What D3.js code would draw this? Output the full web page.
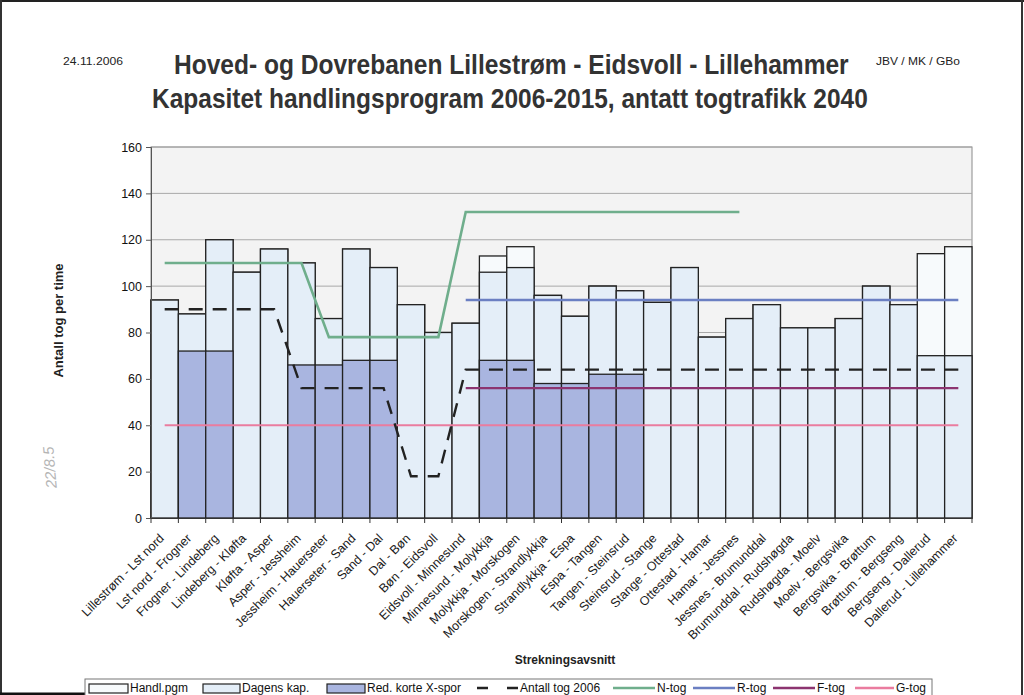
<!DOCTYPE html>
<html>
<head>
<meta charset="utf-8">
<script src="https://cdn.jsdelivr.net/npm/d3@7/dist/d3.min.js"></script>
<style>
  html, body { margin: 0; padding: 0; background: #ffffff; }
  svg { display: block; }
  text { font-family: "Liberation Sans", Arial, sans-serif; fill: #111; }
</style>
</head>
<body>
<svg id="chart" width="1024" height="695"></svg>
<script>
// ---------- data ----------
const categories = [
  "Lillestrøm - Lst nord", "Lst nord - Frogner", "Frogner - Lindeberg", "Lindeberg - Kløfta",
  "Kløfta - Asper", "Asper - Jessheim", "Jessheim - Hauerseter", "Hauerseter - Sand",
  "Sand - Dal", "Dal - Bøn", "Bøn - Eidsvoll", "Eidsvoll - Minnesund",
  "Minnesund - Molykkja", "Molykkja - Morskogen", "Morskogen - Strandlykkja", "Strandlykkja - Espa",
  "Espa - Tangen", "Tangen - Steinsrud", "Steinsrud - Stange", "Stange - Ottestad",
  "Ottestad - Hamar", "Hamar - Jessnes", "Jessnes - Brumunddal", "Brumunddal - Rudshøgda",
  "Rudshøgda - Moelv", "Moelv - Bergsvika", "Bergsvika - Brøttum", "Brøttum - Bergseng",
  "Bergseng - Dallerud", "Dallerud - Lillehammer"
];
const handlPgm   = [94, 88, 120, 106, 116, 110, 86, 116, 108, 92, 80, 84, 113, 117, 96, 87, 100, 98, 93, 108, 78, 86, 92, 82, 82, 86, 100, 92, 114, 117];
const dagensKap  = [94, 88, 120, 106, 116, 110, 86, 116, 108, 92, 80, 84, 106, 108, 96, 87, 100, 98, 93, 108, 78, 86, 92, 82, 82, 86, 100, 92, 70, 70];
const redKorteX  = [null, 72, 72, null, null, 66, 66, 68, 68, null, null, null, 68, 68, 58, 58, 62, 62, null, null, null, null, null, null, null, null, null, null, null, null];
const antall2006 = [90, 90, 90, 90, 90, 56, 56, 56, 56, 18, 18, 64, 64, 64, 64, 64, 64, 64, 64, 64, 64, 64, 64, 64, 64, 64, 64, 64, 64, 64];
const nTog = [110, 110, 110, 110, 110, 110, 78, 78, 78, 78, 78, 132, 132, 132, 132, 132, 132, 132, 132, 132, 132, 132, null, null, null, null, null, null, null, null];
const rTog = [null, null, null, null, null, null, null, null, null, null, null, 94, 94, 94, 94, 94, 94, 94, 94, 94, 94, 94, 94, 94, 94, 94, 94, 94, 94, 94];
const fTog = [null, null, null, null, null, null, null, null, null, null, null, 56, 56, 56, 56, 56, 56, 56, 56, 56, 56, 56, 56, 56, 56, 56, 56, 56, 56, 56];
const gTog = [40, 40, 40, 40, 40, 40, 40, 40, 40, 40, 40, 40, 40, 40, 40, 40, 40, 40, 40, 40, 40, 40, 40, 40, 40, 40, 40, 40, 40, 40];
const yTicks = [0, 20, 40, 60, 80, 100, 120, 140, 160];

const titleLine1 = "Hoved- og Dovrebanen Lillestrøm - Eidsvoll - Lillehammer";
const titleLine2 = "Kapasitet handlingsprogram 2006-2015, antatt togtrafikk 2040";
const dateText = "24.11.2006";
const authorText = "JBV / MK / GBo";
const yLabel = "Antall tog per time";
const xLabel = "Strekningsavsnitt";
const noteText = "22/8.5";

// ---------- layout ----------
const svg = d3.select("#chart");
const pL = 151, pR = 972, pT = 147, pB = 518;

const x = d3.scaleBand().domain(categories).range([pL, pR]).padding(0);
const y = d3.scaleLinear().domain([0, 160]).range([pB, pT]);
const cx = c => x(c) + x.bandwidth() / 2;

// page border (scan edges)
svg.append("line").attr("x1", 0).attr("x2", 1024).attr("y1", 1).attr("y2", 1).attr("stroke", "#222").attr("stroke-width", 2);
svg.append("line").attr("x1", 1).attr("x2", 1).attr("y1", 0).attr("y2", 695).attr("stroke", "#333").attr("stroke-width", 2);
svg.append("line").attr("x1", 1022).attr("x2", 1022).attr("y1", 0).attr("y2", 695).attr("stroke", "#333").attr("stroke-width", 2);
svg.append("line").attr("x1", 0).attr("x2", 290).attr("y1", 694).attr("y2", 694).attr("stroke", "#111").attr("stroke-width", 3);

// titles: draw at natural width, then squeeze horizontally (narrow style) to the target width
const sansFont = '"Liberation Sans", Arial, sans-serif';
function fitText(str, x0, yb, size, width, bold, fill) {
  const t = svg.append("text").attr("x", 0).attr("y", 0)
    .style("font-size", size + "px").style("font-family", sansFont)
    .style("font-weight", bold ? "bold" : "normal").style("fill", fill).text(str);
  const w = t.node().getComputedTextLength();
  t.attr("transform", `translate(${x0},${yb}) scale(${width / w},1)`);
  return t;
}
fitText(dateText, 63, 65, 10.5, 60, false, "#222");
fitText(authorText, 876, 65, 10.5, 84, false, "#222");
fitText(titleLine1, 174, 74, 28, 675, true, "#333");
fitText(titleLine2, 152, 108, 28, 716, true, "#333");

// plot background
svg.append("rect").attr("x", pL).attr("y", pT).attr("width", pR - pL).attr("height", pB - pT)
  .attr("fill", "#f3f3f3").attr("stroke", "#8a8a8a").attr("stroke-width", 1);

// gridlines
svg.append("g").selectAll("line").data(yTicks.filter(v => v > 0)).join("line")
  .attr("x1", pL).attr("x2", pR).attr("y1", d => y(d)).attr("y2", d => y(d))
  .attr("stroke", "#a8a8a8").attr("stroke-width", 1);

// bars
const barData = (arr) => categories.map((c, i) => ({ c, v: arr[i] })).filter(d => d.v != null);
svg.append("g").selectAll("rect").data(barData(handlPgm)).join("rect")
  .attr("x", d => x(d.c)).attr("width", x.bandwidth())
  .attr("y", d => y(d.v)).attr("height", d => y(0) - y(d.v))
  .attr("fill", "#f7fafc").attr("stroke", "#222").attr("stroke-width", 1.3);
svg.append("g").selectAll("rect").data(barData(dagensKap)).join("rect")
  .attr("x", d => x(d.c)).attr("width", x.bandwidth())
  .attr("y", d => y(d.v)).attr("height", d => y(0) - y(d.v))
  .attr("fill", "#e4eef8").attr("stroke", "#222").attr("stroke-width", 1.3);
svg.append("g").selectAll("rect").data(barData(redKorteX)).join("rect")
  .attr("x", d => x(d.c)).attr("width", x.bandwidth())
  .attr("y", d => y(d.v)).attr("height", d => y(0) - y(d.v))
  .attr("fill", "#a9b5e0").attr("stroke", "#222").attr("stroke-width", 1.3);

// lines
const lineGen = d3.line().defined(d => d.v != null).x(d => cx(d.c)).y(d => y(d.v));
const series = [
  { arr: gTog, color: "#ea7c9f", w: 2.2 },
  { arr: fTog, color: "#8c3470", w: 2.4 },
  { arr: rTog, color: "#6b7fc2", w: 2.4 },
  { arr: nTog, color: "#6fae8c", w: 2.6 },
  { arr: antall2006, color: "#222", w: 2.4, dash: "14,10" }
];
series.forEach(s => {
  svg.append("path").datum(categories.map((c, i) => ({ c, v: s.arr[i] })))
    .attr("d", lineGen).attr("fill", "none").attr("stroke", s.color)
    .attr("stroke-width", s.w).attr("stroke-dasharray", s.dash || null);
});

// axes
const yAxis = svg.append("g").attr("transform", `translate(${pL},0)`)
  .call(d3.axisLeft(y).tickValues(yTicks).tickSize(5).tickPadding(4));
yAxis.select(".domain").attr("stroke", "#555");
yAxis.selectAll(".tick line").attr("stroke", "#555");
yAxis.selectAll(".tick text").style("font-size", "12.5px").style("font-family", sansFont).attr("fill", "#111");

const xAxis = svg.append("g").attr("transform", `translate(0,${pB})`)
  .call(d3.axisBottom(x).tickSize(0).tickFormat(""));
xAxis.select(".domain").attr("stroke", "#333");
// boundary ticks
svg.append("g").selectAll("line").data(categories.concat(["__end"])).join("line")
  .attr("x1", (d, i) => i < categories.length ? x(d) : pR)
  .attr("x2", (d, i) => i < categories.length ? x(d) : pR)
  .attr("y1", pB).attr("y2", pB + 5).attr("stroke", "#333");

svg.append("g").selectAll("text").data(categories).join("text")
  .attr("transform", d => `translate(${cx(d) - 3},${pB + 18}) rotate(-45)`)
  .attr("text-anchor", "end").attr("dy", "0.35em")
  .style("font-size", "12.5px").style("fill", "#1a1a1a").text(d => d);

// axis titles
svg.append("text").attr("transform", `translate(63,${(pT + pB) / 2 - 12}) rotate(-90)`)
  .attr("text-anchor", "middle").style("font-size", "13px").style("font-weight", "bold").style("fill", "#222")
  .text(yLabel);
svg.append("text").attr("x", 565).attr("y", 664).attr("text-anchor", "middle")
  .style("font-size", "12px").style("font-weight", "bold").style("fill", "#222").text(xLabel);

// handwritten note
svg.append("text").attr("transform", "translate(55,467) rotate(-95)").attr("text-anchor", "middle")
  .style("font-size", "15px").style("font-style", "italic").style("fill", "#b5b5b5").text(noteText);

// legend
const lg = svg.append("g");
lg.append("rect").attr("x", 85).attr("y", 679).attr("width", 847).attr("height", 30)
  .attr("fill", "#fff").attr("stroke", "#777").attr("stroke-width", 1);
const legendItems = [
  { label: "Handl.pgm", type: "rect", fill: "#f7fafc", x0: 89, x1: 128 },
  { label: "Dagens kap.", type: "rect", fill: "#e4eef8", x0: 203, x1: 240 },
  { label: "Red. korte X-spor", type: "rect", fill: "#a9b5e0", x0: 327, x1: 365 },
  { label: "Antall tog 2006", type: "line", color: "#222", x0: 477, x1: 518, dash: "11,19,11" },
  { label: "N-tog", type: "line", color: "#6fae8c", x0: 613, x1: 655 },
  { label: "R-tog", type: "line", color: "#6b7fc2", x0: 693, x1: 735 },
  { label: "F-tog", type: "line", color: "#8c3470", x0: 773, x1: 815 },
  { label: "G-tog", type: "line", color: "#ea7c9f", x0: 855, x1: 894 }
];
legendItems.forEach(it => {
  if (it.type === "rect") {
    lg.append("rect").attr("x", it.x0).attr("y", 684).attr("width", it.x1 - it.x0).attr("height", 9)
      .attr("fill", it.fill).attr("stroke", "#222").attr("stroke-width", 1.2);
  } else {
    lg.append("line").attr("x1", it.x0).attr("x2", it.x1).attr("y1", 688).attr("y2", 688)
      .attr("stroke", it.color).attr("stroke-width", 2.4).attr("stroke-dasharray", it.dash || null);
  }
  lg.append("text").attr("x", it.x1 + 2).attr("y", 692).style("font-size", "12px").text(it.label);
});
</script>
</body>
</html>
